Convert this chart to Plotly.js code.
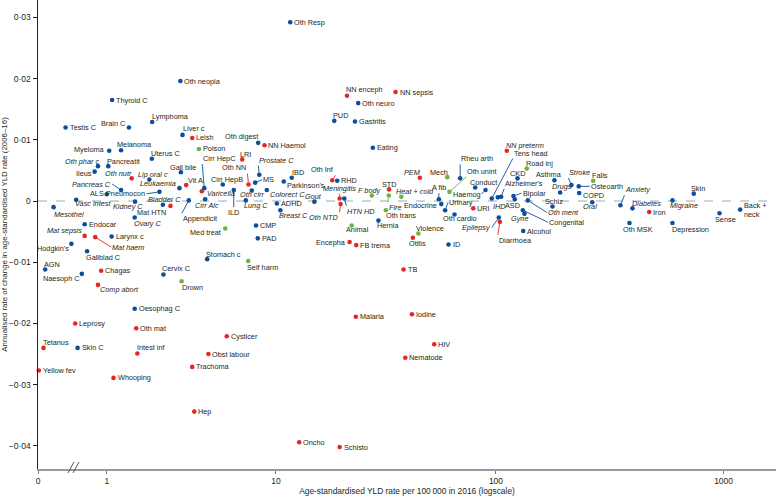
<!DOCTYPE html>
<html><head><meta charset="utf-8">
<script src="https://cdn.plot.ly/plotly-3.0.1.min.js"></script>
<style>html,body{margin:0;padding:0;background:#fff}#chart{width:776px;height:496px}</style>
</head><body><div id="chart"></div>
<script>
// ---- data ----
const causes = [
 'Oth Resp','Oth neopla','Thyroid C','Testis C','Brain C','Lymphoma','Liver c','Leish','Oth digest','NN Haemol',
 'Myeloma','Melanoma','Poison','Uterus C','LRI','Oth phar c','Pancreatit','Gall bile','Cirr HepC','NN enceph',
 'NN sepsis','Oth neuro','PUD','Gastritis','Eating','NN preterm','Tens head','Road inj','Rheu arth','Mech',
 'Oth unint','Conduct','Haemog','A fib','Endocrine','Urinary','Oth cardio','URI','IHD',"Alzheimer's",
 'CKD','Asthma','Stroke','Falls','Osteoarth','Drugs','COPD','Oral','Schiz','Bipolar',
 'ASD','Oth ment','Gyne','Congenital','Alcohol','Epilepsy','Diarrhoea','Anxiety','Diabetes','Iron',
 'Migraine','Skin','Oth MSK','Depression','Sense','Back + neck','Prostate C','MS','IBD',"Parkinson's",
 'Oth Inf','RHD','Colorect C','Oth cirr','Gout','Meningitis','HTN HD','Oth NTD','ADHD','Lung C',
 'Breast C','ILD','Cirr HepB','Oth NN','Varicella','Cirr Alc','Vit A','Leukaemia','Lip oral c','Pneumocon',
 'Bladder C','Mat HTN','Appendicit','Kidney C','Ovary C','Pancreas C','ALS','Vasc intest','Mesothel','Ileus',
 'Oth nutr','Endocar','Mat sepsis','Mat haem','Larynx c',"Hodgkin's",'Gallblad C','AGN','Naesoph C','Chagas',
 'Comp abort','Cervix C','Drown','Stomach c','Med treat','Self harm','Oesophag C','CMP','PAD','Animal',
 'Hernia','Oth trans','Fire','STD','F body','Heat + cold','PEM','Violence','Otitis','ID',
 'Encepha','FB trema','TB','Malaria','Iodine','HIV','Nematode','Oncho','Schisto','Leprosy',
 'Oth mat','Cysticer','Tetanus','Skin C','Intest inf','Obst labour','Trachoma','Yellow fev','Whooping','Hep'
];
// age-standardised YLD rate per 100 000 in 2016
const yldRate2016 = [
 11.7,3.2,1.11,0.32,1.5,2.16,3.29,3.73,8.2,8.8,
 1.05,1.31,4.06,2.15,6.83,0.83,1.03,3.22,4.34,21.5,
 35.7,24.2,18.8,23.4,28.2,111.6,95.8,136.7,69.4,60.8,
 62.2,80.9,89.9,55.8,57.2,59.5,65.5,79.3,101.9,105.4,
 124.5,181,215,268,231.6,191.8,232.6,265.4,177.5,119.5,
 121.1,138.2,133.6,131.4,131.9,102.9,104,353,398.7,472,
 597,740,386.8,597,959.5,1182,8.3,7.92,11.9,10.9,
 18.4,19.4,9.03,7.62,15.2,19.9,20.9,20.1,10.1,7.12,
 10.5,6.19,5.44,7.34,4.21,4.39,3.45,3.16,2.07,2.4,
 2.52,2.8,3.57,1.66,1.65,1.31,1.0,0.47,0.17,0.77,
 1.57,0.6,0.6,0.78,1.1,0.4,0.64,0.075,0.555,0.89,
 0.83,2.54,3.25,4.5,5.6,7.32,1.65,8.0,8.16,22.6,
 29.9,32.3,33.3,33.4,27.9,37.9,45.9,45.2,42.7,61.6,
 22.1,23.7,38.8,23.6,42.3,53.2,39.5,12.9,19.9,0.455,
 1.69,5.7,0.057,0.49,1.72,4.57,3.73,0.008,1.14,3.83
];
// annualised rate of change in age-standardised YLD rate, 2006-16
const annualChange = [
 0.0292,0.0196,0.0165,0.0120,0.0120,0.0129,0.0108,0.0103,0.0095,0.0091,
 0.0082,0.0083,0.0085,0.0069,0.0068,0.0057,0.0057,0.0047,0.0021,0.0172,
 0.0178,0.0160,0.0131,0.0130,0.0087,0.0082,0.0004,0.0053,0.0037,0.0039,
 0.0015,0.0022,0.0018,0.0003,-0.0005,-0.0015,-0.0022,-0.0012,0.0006,0.0007,
 0.0037,0.0034,0.0026,0.0033,0.0024,0.0014,0.0013,-0.0002,-0.0009,0.0008,
 0.0003,0.0001,-0.0021,-0.0015,-0.0049,-0.0027,-0.0034,-0.0007,-0.0012,-0.0018,
 0.0001,0.0012,-0.0036,-0.0036,-0.0020,-0.0014,0.0043,0.0030,0.0038,0.0032,
 0.0034,0.0033,0.0018,0.0017,-0.0001,0.0004,0.0004,-0.0005,-0.0004,0.0001,
 -0.0015,0.0018,0.0027,0.0027,0.0016,0.0003,0.0026,0.0021,0.0035,0.0015,
 -0.0006,-0.0008,0.0001,-0.0001,-0.0027,0.0018,0.0011,0.0002,-0.0010,0.0048,
 0.0037,-0.0038,-0.0057,-0.0059,-0.0058,-0.0070,-0.0082,-0.0112,-0.0119,-0.0114,
 -0.0137,-0.0120,-0.0131,-0.0095,-0.0045,-0.0098,-0.0176,-0.0040,-0.0061,-0.0040,
 -0.0032,-0.0015,0.0009,0.0019,0.0009,0.0007,0.0038,-0.0053,-0.0060,-0.0071,
 -0.0067,-0.0072,-0.0112,-0.0189,-0.0185,-0.0234,-0.0256,-0.0394,-0.0402,-0.0200,
 -0.0208,-0.0221,-0.0240,-0.0240,-0.0249,-0.0250,-0.0271,-0.0277,-0.0289,-0.0344
];
// N = non-communicable, C = communicable/maternal/neonatal/nutritional, I = injuries
const causeGroup = [
 'N','N','N','N','N','N','N','C','N','C',
 'N','N','I','N','C','N','N','N','N','C',
 'C','N','N','N','N','C','N','I','N','I',
 'I','N','N','N','N','N','N','C','N','N',
 'N','N','N','I','N','N','N','N','N','N',
 'N','N','N','N','N','N','C','N','N','C',
 'N','N','N','N','N','N','N','N','N','N',
 'C','N','N','N','N','C','N','C','N','N',
 'N','N','N','C','C','N','C','N','N','N',
 'N','C','N','N','N','N','N','N','N','N',
 'C','N','C','C','N','N','N','N','N','C',
 'C','N','I','N','I','I','N','N','N','I',
 'N','I','I','C','I','I','C','I','C','N',
 'C','C','C','C','C','C','C','C','C','C',
 'C','C','C','N','C','C','C','C','C','C'
];
const italicCauses = ['Oth phar c','Oth nutr','Lip oral c','Pancreas C','Leukaemia','Varicella','Cirr Alc','Bladder C',
 'Kidney C','Ovary C','Vasc intest','Mesothel','Mat sepsis','Mat haem','Comp abort','Oth cirr','Lung C','Colorect C',
 'Breast C','Prostate C','Gout','Meningitis','HTN HD','Oth NTD','F body','Fire','Heat + cold','PEM','NN preterm',
 'IHD','Epilepsy','Gyne','Oth ment','Drugs','Stroke','Oral','Anxiety','Diabetes','Migraine'];
const xTickRates = [0,1,10,100,1000];
const xTickText = ['0','1','10','100','1000'];
const yTickVals = [-0.04,-0.03,-0.02,-0.01,0,0.01,0.02,0.03];
const yTickText = ['\u22120\u00b704','\u22120\u00b703','\u22120\u00b702','\u22120\u00b701','0','0\u00b701','0\u00b702','0\u00b703'];

// ---- label placement (layout only) ----
// ['t', dx, dy, xanchor]  plain label offset (px, screen)
// ['L', ax, ay, xanchor, yanchor]  label with leader line
const labelPlacement = {
 'Brain C':['t',-3,-4,'right'], 'Lymphoma':['t',-1,-6,'left'], 'Liver c':['t',-1,-6,'left'],
 'Oth digest':['t',1,-6,'right'], 'Myeloma':['t',-3,-1,'right'], 'Melanoma':['t',-5,-6,'left'],
 'Uterus C':['t',-2,-5,'left'], 'LRI':['t',-3,-5,'left'], 'Oth phar c':['t',2,-5,'right'],
 'Pancreatit':['t',-2,-5,'left'], 'Gall bile':['t',2,-5,'center'], 'NN enceph':['t',-2,-6,'left'],
 'PUD':['t',-2,-5,'left'], 'NN preterm':['t',-2,-5,'left'], 'Road inj':['t',-2,-5,'left'],
 'Mech':['t',2,-5,'right'], 'Conduct':['t',-6,-5,'left'], 'Endocrine':['t',-3,1,'right'],
 'Oth cardio':['t',5,4,'center'], 'IHD':['t',2,9,'center'], 'CKD':['t',0,-5,'center'],
 'Asthma':['t',-5,-6,'center'], 'Falls':['t',-2,-5,'left'], 'Drugs':['t',2,-6,'center'],
 'COPD':['t',3,2,'left'], 'Oral':['t',-2,4,'center'], 'Schiz':['t',2,-5,'center'],
 'ASD':['t',-2,6,'center'], 'Gyne':['t',-5,5,'center'], 'Diabetes':['t',-1,-5,'left'],
 'Migraine':['t',-3,5,'left'], 'Skin':['t',4,-5,'center'], 'Oth MSK':['t',9,6,'center'],
 'Depression':['t',-1,6,'left'], 'Sense':['t',6,6,'center'], 'Back + neck':['t',3,0,'left'],
 'IBD':['t',6,-5,'center'], "Parkinson's":['t',2,4,'left'], 'Colorect C':['t',2,4,'left'],
 'Oth cirr':['t',0,4,'center'], 'Gout':['t',-1,-5,'center'], 'Lung C':['t',-3,5,'left'],
 'Breast C':['t',-2,5,'left'], 'Cirr HepB':['t',4,-5,'center'], 'Varicella':['t',4,2,'left'],
 'Cirr Alc':['t',2,6,'center'], 'Vit A':['t',1,-5,'left'], 'Leukaemia':['t',-2,-5,'right'],
 'Lip oral c':['t',4,-5,'center'], 'Bladder C':['t',2,-5,'center'], 'Mat HTN':['t',-3,7,'right'],
 'Kidney C':['t',-7,5,'center'], 'Ovary C':['t',-2,6,'left'], 'ALS':['t',-2,-1,'right'],
 'Vasc intest':['t',-2,4,'left'], 'Mesothel':['t',-1,7,'left'], 'Ileus':['t',-2,2,'right'],
 'Oth nutr':['t',1,-5,'right'], 'Mat sepsis':['t',-2,-5,'right'], "Hodgkin's":['t',-1,5,'right'],
 'Gallblad C':['t',-2,6,'left'], 'AGN':['t',-2,-5,'left'], 'Naesoph C':['t',-1,5,'right'],
 'Comp abort':['t',1,5,'left'], 'Cervix C':['t',-2,-6,'left'], 'Drown':['t',-1,6,'left'],
 'Stomach c':['t',-2,-5,'left'], 'Med treat':['t',-3,4,'right'], 'Self harm':['t',-2,6,'left'],
 'Animal':['t',6,4,'center'], 'Hernia':['t',-2,5,'left'], 'Oth trans':['t',-1,5,'left'],
 'STD':['t',0,-5,'center'], 'F body':['t',-2,-5,'center'], 'Heat + cold':['t',-6,-5,'left'],
 'PEM':['t',2,-5,'right'], 'Violence':['t',-3,-5,'left'], 'Otitis':['t',5,6,'center'],
 'Encepha':['t',-3,0,'right'], 'Tetanus':['t',-2,-5,'left'], 'Intest inf':['t',-1,-6,'left'],
 'Cirr HepC':['L',-2,-24,'left','bottom'], 'Tens head':['L',21,-40,'left','bottom'],
 'Rheu arth':['L',0,-14,'left','bottom'], 'Oth unint':['L',17,-15,'left','bottom'],
 'Haemog':['L',-4,4,'right','middle'], 'A fib':['L',0,-6,'center','bottom'],
 'Urinary':['L',3,-8,'left','middle'], "Alzheimer's":['L',3,-8,'left','bottom'],
 'Stroke':['L',-3,-7,'left','bottom'], 'Osteoarth':['L',11,0,'left','middle'],
 'Bipolar':['L',8,-3,'left','middle'], 'Oth ment':['L',19,12,'left','middle'],
 'Congenital':['L',25,12,'left','middle'], 'Epilepsy':['L',-7,10,'right','middle'],
 'Diarrhoea':['L',-2,13,'left','top'], 'Anxiety':['L',4,-10,'left','bottom'],
 'Prostate C':['L',-1,-9,'left','bottom'], 'MS':['L',7,-3,'left','middle'],
 'Oth Inf':['L',3,-5,'right','bottom'], 'Meningitis':['L',0,-5,'center','bottom'],
 'HTN HD':['L',2,7,'left','top'], 'Oth NTD':['L',-1,8,'right','top'],
 'ILD':['L',0,17,'center','top'], 'Oth NN':['L',-1,-11,'right','bottom'],
 'Pneumocon':['L',-13,2,'right','middle'], 'Appendicit':['L',-7,13,'left','top'],
 'Pancreas C':['L',-9,-6,'right','middle'], 'Mat haem':['L',16,10,'left','middle'],
 'Fire':['L',-1,6,'left','top']
};
const labelText = {'Back + neck':'Back +<br>neck'};

const groupColor = {N:'#0b4f9c', C:'#e8262a', I:'#6cb43f'};
const FONT = 'Liberation Sans, Arial, sans-serif';

const traces = ['N','C','I'].map(g => {
  const idx = causes.map((c,i)=>i).filter(i => causeGroup[i] === g);
  return {
    type:'scatter', mode:'markers',
    x: idx.map(i => yldRate2016[i] + 1),   // axis is log(rate + 1)
    y: idx.map(i => annualChange[i]),
    text: idx.map(i => causes[i]),
    marker:{size:4.6, color:groupColor[g]},
    cliponaxis:false, showlegend:false, hoverinfo:'text'
  };
});

const annotations = causes.map((name,i) => {
  const p = labelPlacement[name] || ['t',3,0,'left'];
  let txt = labelText[name] || name;
  if (italicCauses.includes(name)) txt = '<i>' + txt + '</i>';
  const base = {
    x: Math.log10(yldRate2016[i] + 1), y: annualChange[i], xref:'x', yref:'y',
    text: txt, font:{size:7.3, color:'#231f20', family:FONT}, align:'left', borderpad:0
  };
  if (p[0] === 'L') {
    return Object.assign(base, {showarrow:true, arrowhead:0, arrowwidth:0.9,
      arrowcolor: groupColor[causeGroup[i]], ax:p[1], ay:p[2], xanchor:p[3], yanchor:p[4], standoff:2});
  }
  return Object.assign(base, {showarrow:false, xanchor:p[3], yanchor:'middle', xshift:p[1], yshift:-p[2]});
});

const layout = {
  width:776, height:496,
  margin:{l:38, r:0, t:0, b:27, pad:0},
  paper_bgcolor:'#fff', plot_bgcolor:'#fff',
  font:{family:FONT, size:8.5, color:'#231f20'},
  xaxis:{
    type:'log', range:[0, 3.2298],
    tickvals: xTickRates.map(v => v + 1), ticktext: xTickText,
    ticks:'outside', ticklen:3, tickcolor:'#777', tickfont:{size:8.5},
    showline:true, linecolor:'#9a9a9a', linewidth:2, showgrid:false, zeroline:false,
    title:{text:'Age-standardised YLD rate per 100\u2009000 in 2016 (logscale)', font:{size:8.4}, standoff:5}
  },
  yaxis:{
    range:[-0.04378, 0.03284],
    tickvals: yTickVals, ticktext: yTickText,
    ticks:'outside', ticklen:4, tickcolor:'#231f20', tickfont:{size:8.5},
    showline:true, linecolor:'#231f20', linewidth:1.5, showgrid:false, zeroline:false,
    title:{text:'Annualised rate of change in age-standardised YLD rate (2006\u201316)', font:{size:7.9}, standoff:4}
  },
  shapes:[
    {type:'line', xref:'paper', x0:0, x1:1, yref:'y', y0:0, y1:0, layer:'below',
     line:{color:'#7f93a8', width:0.8, dash:'dash'}},
    {type:'line', xref:'paper', yref:'paper', xsizemode:'pixel', ysizemode:'pixel', xanchor:0.0488, yanchor:0,
     x0:-6, x1:0, y0:-4, y1:7, line:{color:'#555', width:1}},
    {type:'line', xref:'paper', yref:'paper', xsizemode:'pixel', ysizemode:'pixel', xanchor:0.0488, yanchor:0,
     x0:-1, x1:5, y0:-4, y1:7, line:{color:'#555', width:1}}
  ],
  annotations: annotations,
  showlegend:false
};

Plotly.newPlot('chart', traces, layout, {displayModeBar:false, staticPlot:true});
</script>
</body></html>
